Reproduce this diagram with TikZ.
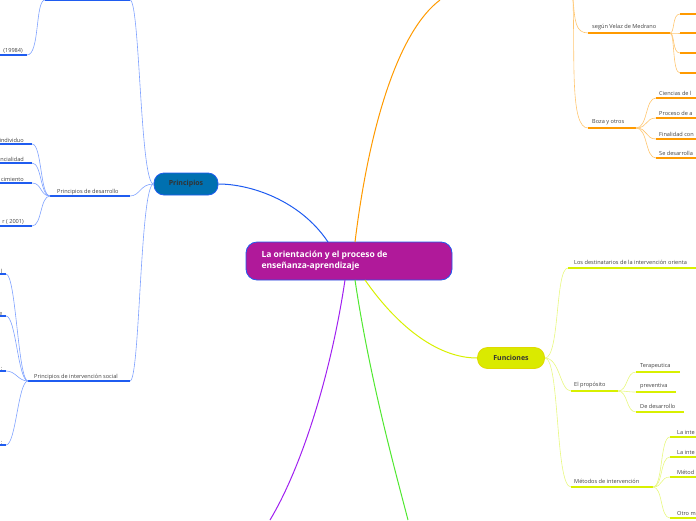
\documentclass[tikz,border=0pt]{standalone}
\usepackage{fontspec}
\setmainfont{Open Sans}
\definecolor{mag}{HTML}{B0199A}
\definecolor{pblue}{HTML}{0070B0}
\definecolor{bl}{HTML}{1F5CF0}
\definecolor{bll}{HTML}{7FA2FF}
\definecolor{orn}{HTML}{FF9A00}
\definecolor{ornl}{HTML}{FFC670}
\definecolor{yel}{HTML}{D8F000}
\definecolor{yell}{HTML}{E8F880}
\definecolor{grn}{HTML}{50E830}
\definecolor{pur}{HTML}{A020F0}
\begin{document}
\begin{tikzpicture}[x=1pt,y=-1pt,
 lbl/.style={font=\fontsize{5.6}{6}\selectfont,text=black!75,anchor=south west,inner sep=1pt},
 ulB/.style={bl,line width=1.2pt},ulO/.style={orn,line width=1.2pt},ulY/.style={yel,line width=1.2pt},
 cB/.style={bll,line width=0.6pt},cO/.style={ornl,line width=0.6pt},cY/.style={yell,line width=0.6pt}]
\useasboundingbox (0,0) rectangle (696,520);
% central
\node[draw=bl,line width=0.8pt,fill=mag,rounded corners=11pt,minimum width=206pt,minimum height=38pt] (c) at (349,261) {};
\node[text=white,font=\bfseries\fontsize{8.5}{10.5}\selectfont,align=left,anchor=west] (ct) at (258,261) {La orientación y el proceso de\\enseñanza-aprendizaje};
\node[draw=bl,line width=0.8pt,fill=pblue,rounded corners=10pt,minimum width=64pt,minimum height=22pt,font=\bfseries\fontsize{7}{8}\selectfont,text=black!80] (pr) at (186,184) {Principios};
\node[draw=yel!80!orange,line width=0.8pt,fill=yel!95!orange,rounded corners=10pt,minimum width=67pt,minimum height=21pt,font=\bfseries\fontsize{7}{8}\selectfont,text=black!80] (fu) at (511,358) {Funciones};
% main lines
\coordinate (ot) at (440,0); \coordinate (pb) at (270,520); \coordinate (gb) at (408,520);
\draw[orn,line width=1pt] (355,242) .. controls (370,120) and (400,30) .. (ot);
\draw[bl,line width=1pt] (328,242) .. controls (300,200) and (250,184) .. (pr.east);
\draw[pur,line width=1pt] (345,280) .. controls (330,380) and (300,470) .. (pb);
\draw[grn,line width=1pt] (355,280) .. controls (370,380) and (395,470) .. (gb);
\draw[yel,line width=1pt] (365,280) .. controls (400,330) and (440,358) .. (fu.west);
% Principios branches
\coordinate (p1a) at (45,0); \coordinate (p1b) at (130,0);
\coordinate (p2a) at (50,196); \coordinate (p2b) at (130,196);
\coordinate (p3a) at (28,381); \coordinate (p3b) at (130,381);
\draw[cB] (pr.west) .. controls (140,184) and (140,0) .. (p1b);
\draw[cB] (pr.west) .. controls (140,184) and (140,196) .. (p2b);
\draw[cB] (pr.west) .. controls (140,184) and (140,381) .. (p3b);
\draw[ulB] (p1a) -- (p1b); \draw[ulB] (p2a) -- (p2b); \draw[ulB] (p3a) -- (p3b);
\node[lbl] (p2t) at (56,196) {Principios de desarrollo};
\node[lbl] (p3t) at (33,381) {Principios de intervención social};
% children of p1
\coordinate (q1) at (0,55); \coordinate (q1b) at (27,55);
\draw[cB] (p1a) .. controls (35,0) and (40,55) .. (q1b); \draw[ulB] (q1) -- (q1b);
\node[lbl,anchor=south east] (q1t) at (24,55) {(19984)};
% children of p2
\foreach \y/\t [count=\i] in {144/individuo,163/ncialidad,183/cimiento,226/r ( 2001)}{
 \coordinate (r\i) at (0,\y); \coordinate (rb\i) at (32,\y);
 \draw[cB] (p2a) .. controls (40,196) and (42,\y) .. (rb\i); \draw[ulB] (r\i) -- (rb\i);
 \node[lbl,anchor=south east] (rt\i) at (25,\y) {\t};}
% children of p3
\foreach \y/\t [count=\i] in {274/l,316/e,371/:,445/:}{
 \coordinate (s\i) at (0,\y); \coordinate (sb\i) at (6,\y);
 \draw[cB] (p3a) .. controls (18,381) and (16,\y) .. (sb\i); \draw[ulB] (s\i) -- (sb\i);
 \node[lbl,anchor=south east,inner sep=0.5pt] (st\i) at (3,\y) {\t};}
% Orange
\coordinate (o1a) at (588,33); \coordinate (o1b) at (670,33);
\coordinate (o2a) at (588,128); \coordinate (o2b) at (636,128);
\coordinate (ostem) at (573,0);
\draw[cO] (ostem) .. controls (575,20) and (575,33) .. (o1a);
\draw[cO] (ostem) .. controls (575,60) and (570,128) .. (o2a);
\draw[ulO] (o1a) -- (o1b); \draw[ulO] (o2a) -- (o2b);
\node[lbl] (o1t) at (591,31) {según Velaz de Medrano};
\node[lbl] (o2t) at (591,126) {Boza y otros};
\foreach \y [count=\i] in {14,33,53,73}{
 \coordinate (v\i) at (680,\y);
 \draw[cO] (o1b) .. controls (675,33) and (672,\y) .. (v\i); \draw[ulO] (v\i) -- (696,\y);}
\foreach \y/\t [count=\i] in {98/Ciencias de l,118/Proceso de a,139/Finalidad con,158/Se desarrolla}{
 \coordinate (w\i) at (656,\y);
 \draw[cO] (o2b) .. controls (648,128) and (645,\y) .. (w\i); \draw[ulO] (w\i) -- (696,\y);
 \node[lbl] (wt\i) at (658,\y-1) {\t};}
% Funciones
\coordinate (f1a) at (568,268); \coordinate (f1b) at (696,268);
\coordinate (f2a) at (571,391); \coordinate (f2b) at (618,391);
\coordinate (f3a) at (571,487); \coordinate (f3b) at (653,487);
\draw[cY] (fu.east) .. controls (560,358) and (555,268) .. (f1a);
\draw[cY] (fu.east) .. controls (560,358) and (560,391) .. (f2a);
\draw[cY] (fu.east) .. controls (560,358) and (555,487) .. (f3a);
\draw[ulY] (f1a) -- (f1b); \draw[ulY] (f2a) -- (f2b); \draw[ulY] (f3a) -- (f3b);
\node[lbl] (f1t) at (573,266) {Los destinatarios de la intervención orienta};
\node[lbl] (f2t) at (573,389) {El propósito};
\node[lbl] (f3t) at (573,485) {Métodos de intervención};
\foreach \y/\e/\t [count=\i] in {372/680/Terapeutica,392/676/preventiva,412/684/De desarrollo}{
 \coordinate (g\i) at (636,\y);
 \draw[cY] (f2b) .. controls (628,391) and (626,\y) .. (g\i); \draw[ulY] (g\i) -- (\e,\y);
 \node[lbl] (gt\i) at (639,\y-2) {\t};}
\foreach \y/\t [count=\i] in {437/La inte,457/La inte,477/Métod,518/Otro m}{
 \coordinate (h\i) at (670,\y);
 \draw[cY] (f3b) .. controls (663,487) and (660,\y) .. (h\i); \draw[ulY] (h\i) -- (696,\y);
 \node[lbl] (ht\i) at (676,\y-1.5) {\t};}
\end{tikzpicture}
\end{document}
